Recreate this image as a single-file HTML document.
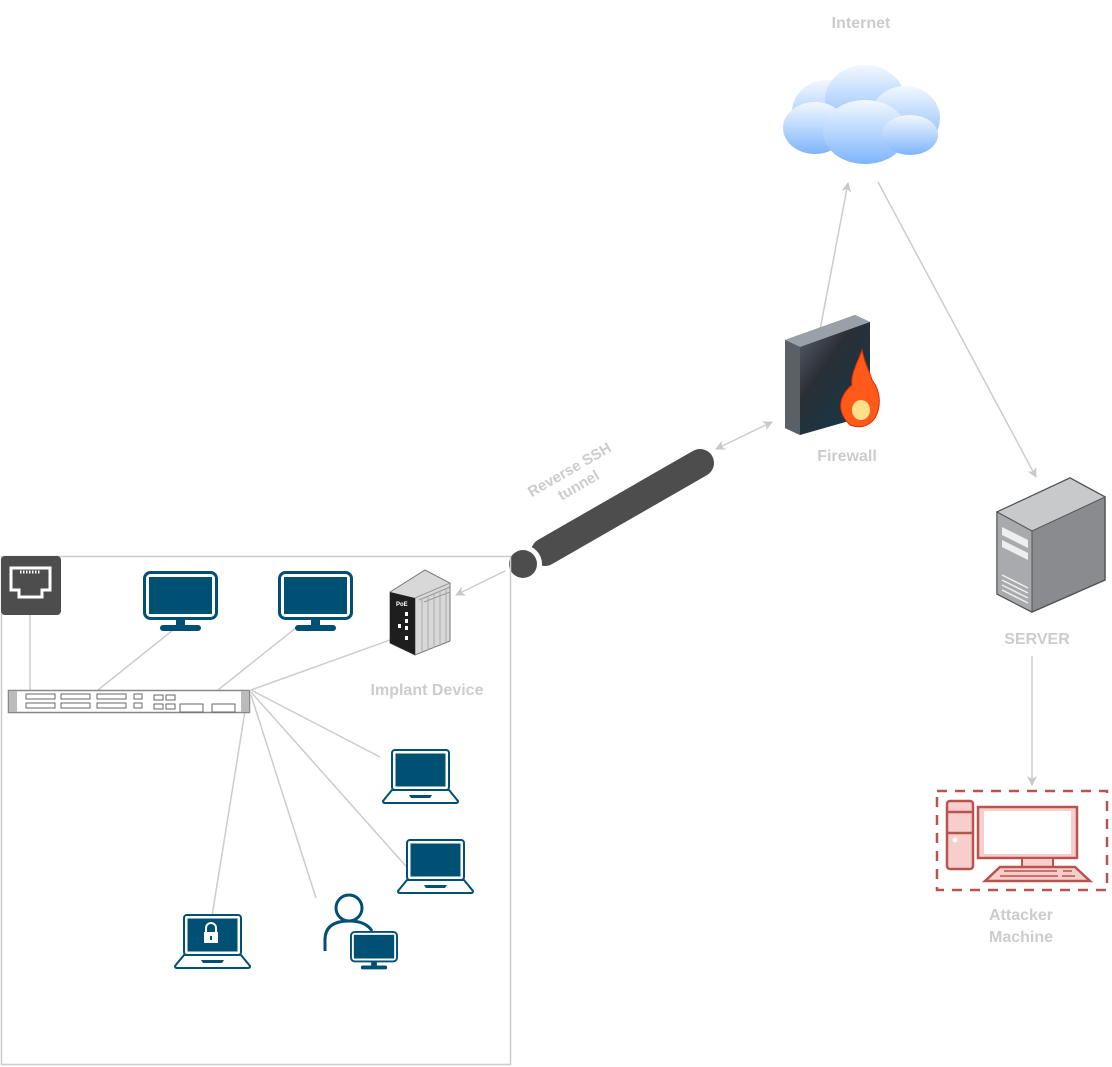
<!DOCTYPE html>
<html><head><meta charset="utf-8"><style>
html,body{margin:0;padding:0;background:#fff;}
svg{display:block;}
text{font-family:"Liberation Sans",Arial,sans-serif;font-weight:bold;font-size:16px;fill:#cccccc;}
</style></head><body>
<svg width="1112" height="1067" viewBox="0 0 1112 1067" xmlns="http://www.w3.org/2000/svg">
<defs>
<linearGradient id="cg" x1="0" y1="0" x2="0" y2="1"><stop offset="0" stop-color="#f2f8ff"/><stop offset="1" stop-color="#7fb5fb"/></linearGradient>
<linearGradient id="fw" x1="0" y1="0" x2="1" y2="1"><stop offset="0" stop-color="#6c7480"/><stop offset="0.45" stop-color="#2a2f36"/><stop offset="1" stop-color="#0e3a4e"/></linearGradient>
<marker id="ah" viewBox="0 0 10 10" refX="9" refY="5" markerWidth="10" markerHeight="10" markerUnits="userSpaceOnUse" orient="auto-start-reverse"><path d="M0,0 L10,5 L0,10 L3,5 z" fill="#c8c8c8"/></marker>
<g id="laptop">
<rect x="9" y="0" width="57" height="40" rx="3" fill="#fff" stroke="#005073" stroke-width="2"/>
<rect x="12.5" y="3.5" width="50" height="33" fill="#005073"/>
<path d="M9,40 L66,40 L75,51 Q75,53 73,53 L2,53 Q0,53 0,51 Z" fill="#fff" stroke="#005073" stroke-width="2"/>
<path d="M26,45 L49,45 L47,48 L28,48 Z" fill="#005073"/>
</g>
<g id="mon">
<rect x="1.5" y="1.5" width="72" height="46" rx="6" fill="#fff" stroke="#005073" stroke-width="3"/>
<rect x="6" y="6" width="63" height="37" fill="#005073"/>
<rect x="33" y="47" width="9" height="7" fill="#005073"/>
<rect x="17" y="54" width="41" height="6" rx="3" fill="#005073"/>
</g>
</defs>

<text x="861" y="28" text-anchor="middle">Internet</text>
<g fill="url(#cg)">
<ellipse cx="827" cy="112" rx="35" ry="32"/>
<ellipse cx="865" cy="100" rx="40" ry="35"/>
<ellipse cx="905" cy="118" rx="35" ry="32"/>
<ellipse cx="815" cy="128" rx="32" ry="26"/>
<ellipse cx="865" cy="132" rx="42" ry="32"/>
<ellipse cx="910" cy="135" rx="28" ry="20"/>
</g>

<g stroke="#cccccc" stroke-width="1.5" fill="none">
<line x1="820" y1="330" x2="848" y2="183" marker-end="url(#ah)"/>
<line x1="878" y1="182" x2="1036" y2="477" marker-end="url(#ah)"/>
<line x1="716" y1="449" x2="772" y2="422" marker-start="url(#ah)" marker-end="url(#ah)"/>
<line x1="456" y1="595" x2="515" y2="566" marker-start="url(#ah)" marker-end="url(#ah)"/>
<line x1="1032" y1="656" x2="1032" y2="785" marker-end="url(#ah)"/>
<line x1="30" y1="615" x2="30" y2="690"/>
<line x1="173" y1="630" x2="98" y2="690"/>
<line x1="297" y1="627" x2="218" y2="690"/>
<line x1="390" y1="640" x2="251" y2="690"/>
<line x1="251" y1="690" x2="380" y2="757"/>
<line x1="251" y1="692" x2="412" y2="873"/>
<line x1="251" y1="695" x2="316" y2="898"/>
<line x1="246" y1="705" x2="212" y2="916"/>
</g>

<path d="M785,340 L855,315 L870,322 L870,415 L800,435 L785,428 Z" fill="url(#fw)"/>
<path d="M785,340 L855,315 L870,322 L800,347 Z" fill="#9aa0a8"/>
<path d="M785,340 L800,347 L800,435 L785,428 Z" fill="#5a6068"/>
<path d="M850,425 C835,410 840,395 852,385 C850,375 858,362 862,350 C865,365 870,372 872,380 C880,390 882,405 875,418 C868,428 858,428 850,425 Z" fill="#ff5a1a" stroke="#e02a00" stroke-width="1"/>
<ellipse cx="861" cy="410" rx="9" ry="10" fill="#ffe08a"/>
<text x="847" y="461" text-anchor="middle">Firewall</text>

<line x1="545" y1="552" x2="700" y2="463" stroke="#4d4d4d" stroke-width="28" stroke-linecap="round"/>
<circle cx="523" cy="564" r="19" fill="#fff"/>
<circle cx="523" cy="564" r="14" fill="#4d4d4d"/>
<text transform="translate(572,474) rotate(-30)" text-anchor="middle" style="font-size:15px"><tspan x="0" y="0">Reverse SSH</tspan><tspan x="0" y="18">tunnel</tspan></text>

<path d="M997,512 L1070,478 L1105,497 L1105,580 L1032,612 L997,594 Z" fill="#8a8b8e" stroke="#555" stroke-width="1.5"/>
<path d="M997,512 L1070,478 L1105,497 L1032,531 Z" fill="#c8c9cb" stroke="#555" stroke-width="1"/>
<path d="M997,512 L1032,531 L1032,612 L997,594 Z" fill="#a9aaad" stroke="#555" stroke-width="1"/>
<path d="M1002,527 L1028,540 L1028,548 L1002,535 Z M1002,540 L1028,553 L1028,560 L1002,547 Z" fill="#eee"/>
<path d="M1002,575 L1028,588 M1002,580 L1028,593 M1002,585 L1028,598 M1002,590 L1028,603" stroke="#eee" stroke-width="1.5"/>
<text x="1037" y="644" text-anchor="middle">SERVER</text>

<rect x="937" y="791" width="170" height="99" fill="none" stroke="#b85450" stroke-width="2.5" stroke-dasharray="10,8"/>
<rect x="947" y="801" width="26" height="68" rx="3" fill="#f8cecc" stroke="#b85450" stroke-width="2.5"/>
<line x1="947" y1="812" x2="973" y2="812" stroke="#b85450" stroke-width="2.5"/>
<line x1="947" y1="833" x2="973" y2="833" stroke="#b85450" stroke-width="2.5"/>
<circle cx="955" cy="840" r="2.5" fill="#fff"/>
<rect x="978" y="807" width="99" height="51" fill="#f8cecc" stroke="#b85450" stroke-width="2.5"/>
<rect x="984" y="811" width="87" height="43" fill="#fff"/>
<rect x="1022" y="858" width="31" height="9" fill="#f8cecc" stroke="#b85450" stroke-width="2"/>
<path d="M1000,867 L1075,867 L1090,881 L985,881 Z" fill="#f8cecc" stroke="#b85450" stroke-width="2.5"/>
<path d="M1004,871 L1057,871 M1063,871 L1072,871 M1000,876 L1058,876 M1062,876 L1075,876" stroke="#b85450" stroke-width="1.5"/>
<text x="1021" y="920" text-anchor="middle">Attacker</text>
<text x="1021" y="942" text-anchor="middle">Machine</text>

<rect x="1.5" y="556.5" width="509" height="508" fill="none" stroke="#cccccc" stroke-width="1.5"/>
<rect x="1" y="556" width="60" height="59" rx="4" fill="#4d4d4d"/>
<path d="M11,568 L50,568 L50,590 L42,590 L42,597 L19,597 L19,590 L11,590 Z" fill="none" stroke="#fff" stroke-width="3"/>
<path d="M20,572 L41,572" stroke="#fff" stroke-width="3" stroke-dasharray="1.5,1.5"/>

<use href="#mon" x="143" y="571"/>
<use href="#mon" x="278" y="571"/>

<path d="M390,592 L425,570 L450,583 L450,641 L415,655 L390,643 Z" fill="#d8d8d8" stroke="#777" stroke-width="1"/>
<path d="M415,598 L450,583 M419,600 L450,587 M424,602 L450,592" stroke="#999" stroke-width="1"/>
<path d="M415,598 L415,655" stroke="#777"/>
<path d="M422,600 V652 M428,597 V650 M434,594 V648 M440,591 V646 M446,588 V644" stroke="#aaa" stroke-width="1"/>
<path d="M390,592 L415,598 L415,655 L390,643 Z" fill="#1e1e1e"/>
<text x="396" y="606" style="font-size:6px;fill:#fff">PoE</text>
<rect x="405" y="612" width="3" height="4" fill="#fff"/>
<rect x="405" y="619" width="3" height="4" fill="#fff"/>
<rect x="405" y="626" width="3" height="4" fill="#fff"/>
<rect x="398" y="624" width="3" height="4" fill="#fff"/>
<rect x="405" y="636" width="3" height="4" fill="#fff"/>

<text x="427" y="695" text-anchor="middle">Implant Device</text>

<rect x="8.5" y="690.5" width="241" height="22" fill="#fff" stroke="#888" stroke-width="1.5"/>
<rect x="9" y="691" width="8" height="21" fill="#bbb"/>
<rect x="241" y="691" width="8" height="21" fill="#bbb"/>
<g fill="none" stroke="#666" stroke-width="1">
<rect x="26" y="694" width="29" height="5"/><rect x="26" y="703" width="29" height="5"/>
<rect x="61" y="694" width="29" height="5"/><rect x="61" y="703" width="29" height="5"/>
<rect x="97" y="694" width="29" height="5"/><rect x="97" y="703" width="29" height="5"/>
<rect x="134" y="694" width="8" height="5"/><rect x="134" y="703" width="8" height="5"/>
<rect x="154" y="695" width="9" height="5"/><rect x="166" y="695" width="9" height="5"/>
<rect x="154" y="704" width="9" height="5"/><rect x="166" y="704" width="9" height="5"/>
<rect x="180" y="704" width="23" height="8"/><rect x="212" y="704" width="23" height="8"/>
</g>

<use href="#laptop" x="383" y="750"/>
<use href="#laptop" x="398" y="840"/>
<use href="#laptop" x="175" y="915"/>
<rect x="204" y="932" width="14" height="11" fill="#fff"/>
<path d="M206,932 V928 a5,5 0 0 1 10,0 V932" fill="none" stroke="#fff" stroke-width="2"/>
<rect x="210" y="936" width="2" height="4" fill="#005073"/>

<circle cx="349" cy="908" r="13" fill="#fff" stroke="#005073" stroke-width="3"/>
<path d="M325,951 L325,940 Q325,921 349,921 Q366,921 372,931" fill="none" stroke="#005073" stroke-width="3"/>
<use href="#mon" transform="translate(350,931) scale(0.64)"/>
</svg>
</body></html>
